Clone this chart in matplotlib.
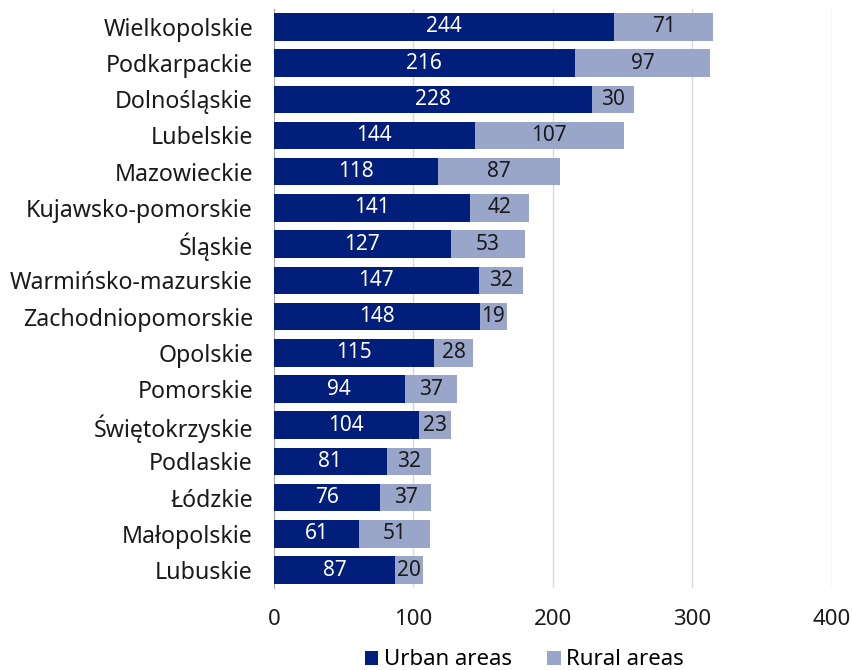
import matplotlib.pyplot as plt
import numpy as np

plt.rcParams["font.family"] = ["Noto Sans", "DejaVu Sans"]

regions = [
    "Wielkopolskie", "Podkarpackie", "Dolnośląskie", "Lubelskie", "Mazowieckie",
    "Kujawsko-pomorskie", "Śląskie", "Warmińsko-mazurskie", "Zachodniopomorskie",
    "Opolskie", "Pomorskie", "Świętokrzyskie", "Podlaskie", "Łódzkie",
    "Małopolskie", "Lubuskie",
]
urban = [244, 216, 228, 144, 118, 141, 127, 147, 148, 115, 94, 104, 81, 76, 61, 87]
rural = [71, 97, 30, 107, 87, 42, 53, 32, 19, 28, 37, 23, 32, 37, 51, 20]

URBAN_COLOR = "#001E7A"
RURAL_COLOR = "#99A6CA"

fig = plt.figure(figsize=(8.53, 6.70), dpi=100)
ax = fig.add_axes([0.321, 0.122, 0.654, 0.865])

y = np.arange(len(regions))
bars_u = ax.barh(y, urban, height=0.76, color=URBAN_COLOR, label="Urban areas", zorder=3)
bars_r = ax.barh(y, rural, left=urban, height=0.76, color=RURAL_COLOR, label="Rural areas", zorder=3)

for b, v in zip(bars_u, urban):
    ax.text(b.get_x() + b.get_width() / 2, b.get_y() + b.get_height() / 2, str(v),
            ha="center", va="center", color="white", fontsize=15, zorder=4)
for b, v in zip(bars_r, rural):
    ax.text(b.get_x() + b.get_width() / 2, b.get_y() + b.get_height() / 2, str(v),
            ha="center", va="center", color="#1a1a1a", fontsize=15, zorder=4)

ax.set_ylim(len(regions) - 0.5, -0.5)
ax.set_xlim(0, 400)
ax.set_xticks([0, 100, 200, 300, 400])
ax.set_yticks(y)
ax.set_yticklabels(regions, fontsize=16.7)
ax.tick_params(axis="both", length=0, colors="#1a1a1a")
ax.tick_params(axis="x", pad=15, labelsize=16)
ax.tick_params(axis="y", pad=15)
ax.xaxis.grid(True, color="#d9d9d9", linewidth=1, zorder=0)
for side in ["top", "right", "bottom"]:
    ax.spines[side].set_visible(False)
ax.spines["left"].set_color("#a6a6a6")

fig.legend(loc="center", bbox_to_anchor=(0.615, 0.015), ncol=2, frameon=False,
           fontsize=16, handlelength=0.6, handleheight=0.6, handletextpad=0.25,
           columnspacing=1.6)

fig.savefig("out.png", dpi=100)
